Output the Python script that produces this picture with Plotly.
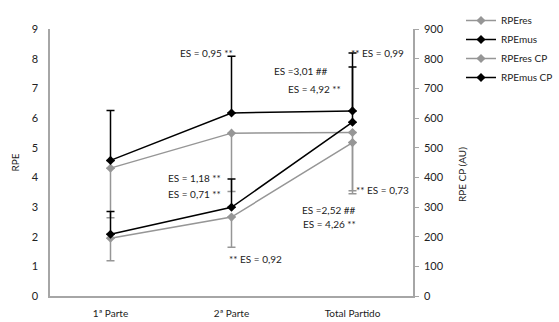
import plotly.graph_objects as go

# Match phases
categories = ["1ª Parte", "2ª Parte", "Total Partido"]

# Session RPE (0-10 scale)
rpe_res = [4.31, 5.49, 5.51]
rpe_res_sd = [1.67, 1.97, 1.96]
rpe_mus = [4.57, 6.17, 6.24]
rpe_mus_sd = [1.68, 1.91, 1.95]

# RPE training load (AU)
rpe_res_cp = [195, 266, 517]
rpe_res_cp_sd = [76, 102, 172]
rpe_mus_cp = [208, 299, 586]
rpe_mus_cp_sd = [77, 95, 186]

left_ticks = list(range(0, 10))
right_ticks = list(range(0, 1000, 100))

GRAY = "#969696"
BLACK = "#000000"
FONT = "Lato, 'Open Sans', sans-serif"

fig = go.Figure()

def add_series(name, y, sd, color, plus, axis):
    zeros = [0] * len(sd)
    fig.add_trace(go.Scatter(
        x=categories, y=y, name=name, yaxis=axis,
        mode="lines+markers",
        line=dict(color=color, width=1.5),
        marker=dict(symbol="diamond", size=7, color=color),
        error_y=dict(type="data", symmetric=False,
                     array=sd if plus else zeros,
                     arrayminus=zeros if plus else sd,
                     color=color, thickness=1.5, width=4),
    ))

add_series("RPEres", rpe_res, rpe_res_sd, GRAY, False, "y")
add_series("RPEmus", rpe_mus, rpe_mus_sd, BLACK, True, "y")
add_series("RPEres CP", rpe_res_cp, rpe_res_cp_sd, GRAY, False, "y2")
add_series("RPEmus CP", rpe_mus_cp, rpe_mus_cp_sd, BLACK, True, "y2")

# Effect-size labels: (text, x, y, anchor)
es_labels = [
    ("ES = 0,95 **", 1.03, 8.20, "right"),
    ("ES =3,01 ##", 1.81, 7.59, "right"),
    ("ES = 4,92 **", 1.92, 6.99, "right"),
    ("** ES = 0,99", 1.97, 8.20, "left"),
    ("ES = 1,18 **", 0.93, 3.97, "right"),
    ("ES = 0,71 **", 0.93, 3.43, "right"),
    ("** ES = 0,92", 0.96, 1.25, "left"),
    ("** ES = 0,73", 2.01, 3.58, "left"),
    ("ES =2,52 ##", 2.045, 2.90, "right"),
    ("ES = 4,26 **", 2.045, 2.43, "right"),
]
for text, x, y, anchor in es_labels:
    fig.add_annotation(x=x, y=y, xref="x", yref="y", text=text,
                       showarrow=False, xanchor=anchor, yanchor="middle",
                       font=dict(size=10, color="#222", family=FONT))

# Axis titles
fig.add_annotation(x=-36 / 363, y=0.5, xref="paper", yref="paper",
                   text="RPE", textangle=-90, showarrow=False,
                   xanchor="center", yanchor="middle",
                   font=dict(size=10, color="#222", family=FONT))
fig.add_annotation(x=(462 - 50) / 363, y=(296 - 174) / 267, xref="paper", yref="paper",
                   text="RPE CP (AU)", textangle=-90, showarrow=False,
                   xanchor="center", yanchor="middle",
                   font=dict(size=10, color="#222", family=FONT))

fig.update_layout(
    width=559, height=322,
    margin=dict(l=50, r=146, t=29, b=26, autoexpand=False),
    paper_bgcolor="white", plot_bgcolor="white",
    font=dict(family=FONT, size=11, color="#222"),
    showlegend=True,
    legend=dict(xref="container", yref="container",
                x=461 / 559, y=1 - 6 / 322, xanchor="left", yanchor="top",
                font=dict(size=10), tracegroupgap=0, itemwidth=30,
                bgcolor="rgba(0,0,0,0)"),
    xaxis=dict(type="category", range=[-0.5, 2.5], showline=True, automargin=False,
               linecolor="#a6a6a6", linewidth=1.5, showgrid=False, ticks="",
               tickfont=dict(size=10), ticklabelstandoff=7, zeroline=False),
    yaxis=dict(range=[0, 9], tickvals=left_ticks, showline=True, automargin=False,
               linecolor="#a6a6a6", linewidth=1.5, showgrid=False, ticks="",
               ticklabelstandoff=8, zeroline=False),
    yaxis2=dict(range=[0, 900], tickvals=right_ticks, overlaying="y", side="right",
                showline=True, linecolor="#a6a6a6", linewidth=1.5, showgrid=False,
                ticks="outside", ticklen=4, tickcolor="#a6a6a6", automargin=False,
                ticklabelstandoff=3, zeroline=False),
)

fig.write_html("out.html")
